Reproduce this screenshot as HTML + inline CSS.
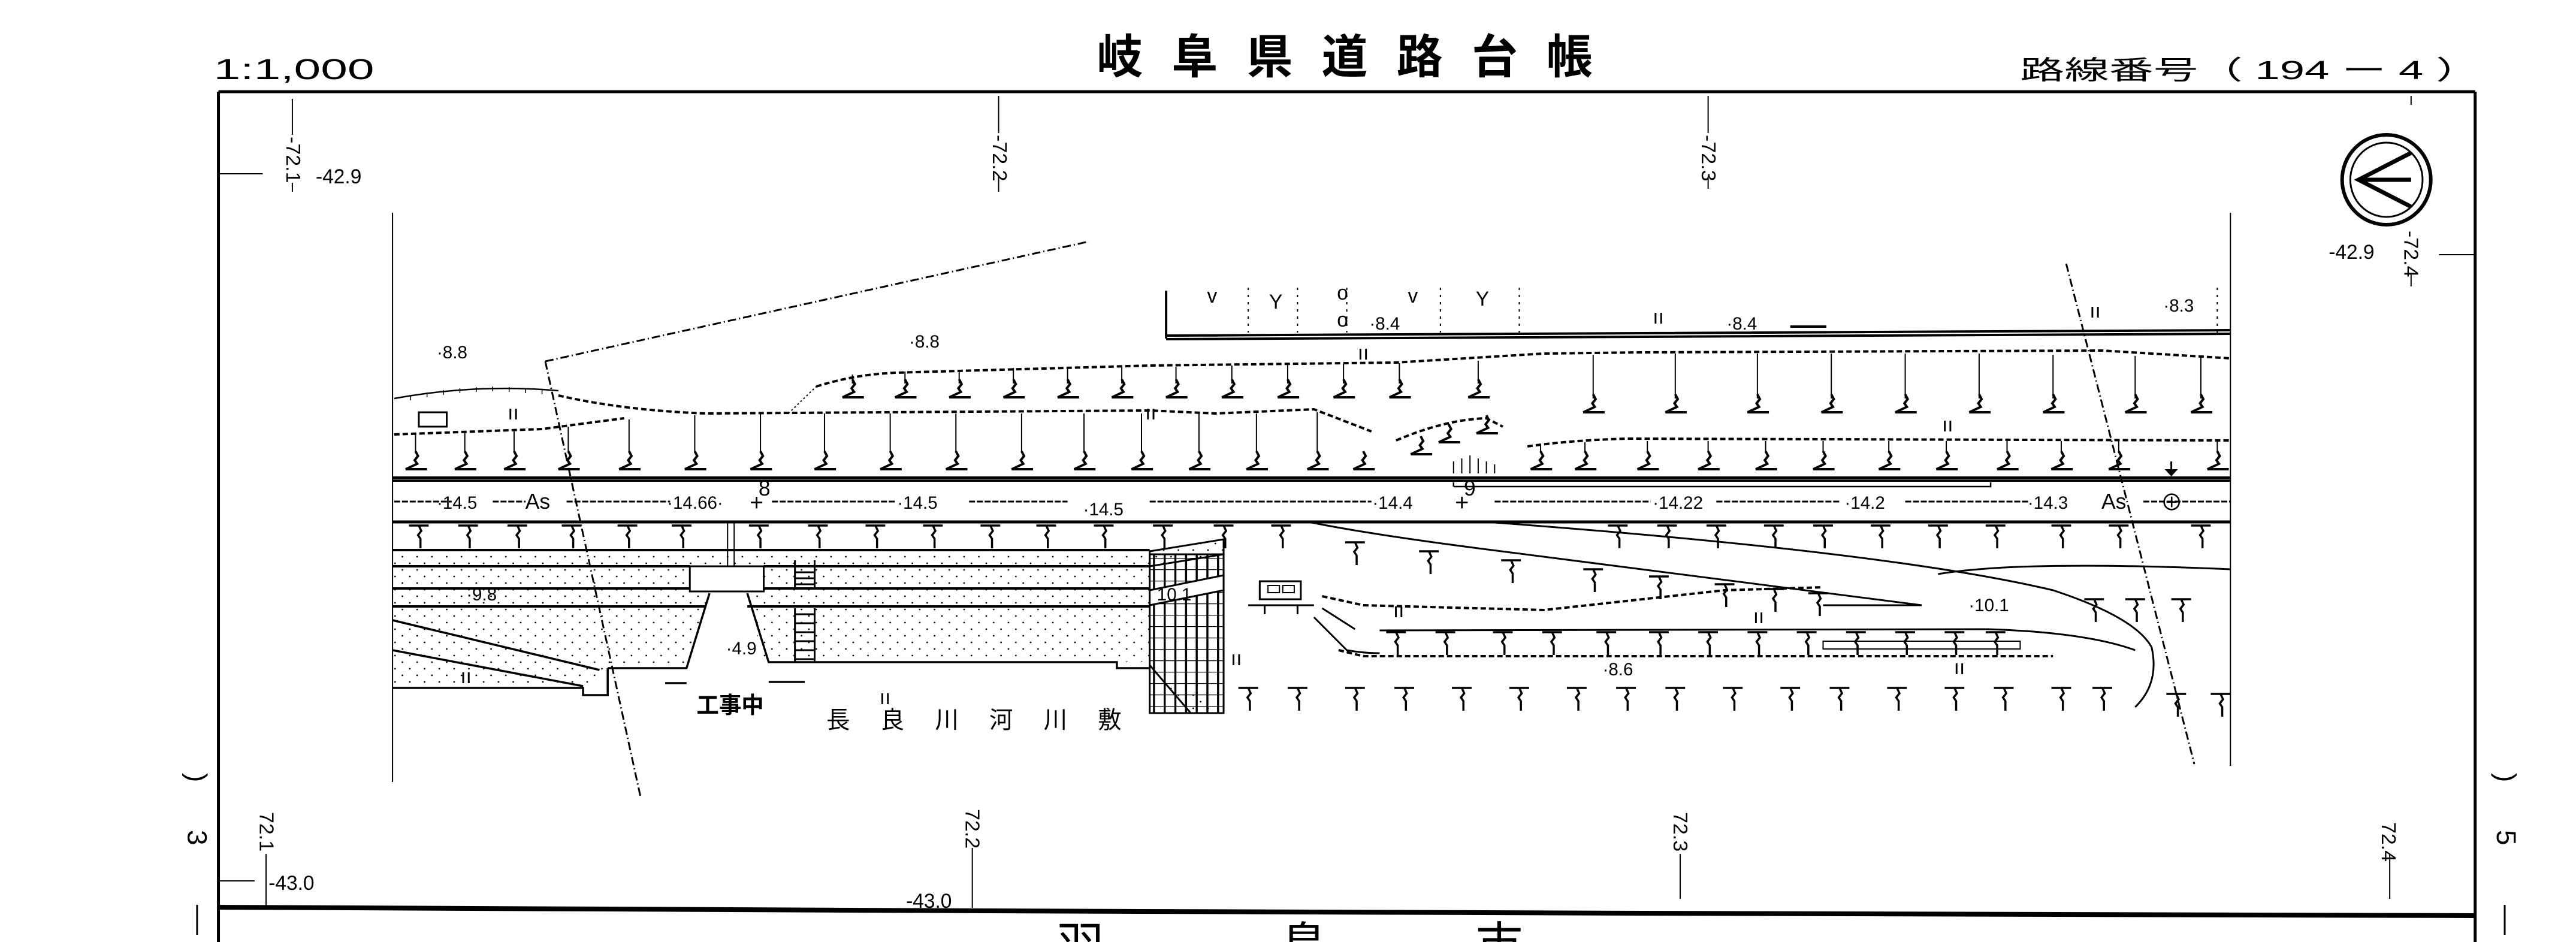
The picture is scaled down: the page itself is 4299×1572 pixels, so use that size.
<!DOCTYPE html>
<html><head><meta charset="utf-8">
<style>
html,body{margin:0;padding:0;background:#fff;}
svg{display:block;}
text{font-family:"Liberation Sans","Noto Sans CJK JP",sans-serif;fill:#000;}
</style></head>
<body>
<svg width="4299" height="1572" viewBox="0 0 4299 1572" xmlns="http://www.w3.org/2000/svg">
<defs>
  <pattern id="dots" patternUnits="userSpaceOnUse" width="9" height="22">
    <ellipse cx="2" cy="5" rx="0.5" ry="1.4" fill="#000"/>
    <ellipse cx="6.5" cy="16" rx="0.5" ry="1.4" fill="#000"/>
  </pattern>
  <pattern id="grid" patternUnits="userSpaceOnUse" width="6.5" height="19">
    <path d="M0,0 H6.5 M0,0 V19" stroke="#000" stroke-width="2.5" vector-effect="non-scaling-stroke" fill="none"/>
  </pattern>
  <path id="z" d="M0,-32 l1.5,8 -2,7 1.5,6 -7,9 h13" fill="none" stroke="#000" stroke-width="4" vector-effect="non-scaling-stroke"/>
  <path id="t" d="M-6,0 h12 l-6,0 l1.5,9 -2,7 1.5,6 V38" fill="none" stroke="#000" stroke-width="3.5" vector-effect="non-scaling-stroke"/>
</defs>

<g transform="scale(2.741,1)" fill="none" stroke="#000" stroke-width="3">
 <g>
  <path vector-effect="non-scaling-stroke" stroke-width="5" d="M133,153 H1507 M133,153 V1572 M1507,153 V1572"/>
  <path vector-effect="non-scaling-stroke" stroke-width="8" d="M133,1514 L600,1520 L1000,1524 L1507,1528"/>
  <path vector-effect="non-scaling-stroke" stroke-width="2" d="M178,165 V225 M178,305 V320 M608,160 V222 M608,295 V320 M1040,160 V222 M1040,295 V315 M1468,160 V175 M1468,455 V478 M133,290 H160 M1485,425 H1507"/>
  <path vector-effect="non-scaling-stroke" stroke-width="2" d="M162,1425 V1515 M592,1415 V1515 M1023,1425 V1500 M1455,1425 V1500 M133,1470 H155"/>
  <path vector-effect="non-scaling-stroke" stroke-width="3" d="M120,1510 V1560 M1525,1510 V1560"/>
  <ellipse vector-effect="non-scaling-stroke" cx="1453" cy="300" rx="27" ry="75" stroke-width="6"/>
  <ellipse vector-effect="non-scaling-stroke" cx="1453" cy="300" rx="22" ry="62" stroke-width="3"/>
  <path vector-effect="non-scaling-stroke" stroke-width="7" d="M1468,255 L1436,300 L1468,345 M1436,300 L1468,300"/>

  <path vector-effect="non-scaling-stroke" stroke-width="2" d="M239,355 V1305 M1358,355 V1278"/>
  <path vector-effect="non-scaling-stroke" stroke-width="4" d="M239,797 H1358 M239,802 H1358"/>
  <path vector-effect="non-scaling-stroke" stroke-width="5" d="M239,871 H1358"/>
  <path vector-effect="non-scaling-stroke" stroke-width="2.5" d="M885,812 H1212 V805 M885,812 V805"/>
  <path vector-effect="non-scaling-stroke" stroke-width="3" d="M240,837 H275 M300,837 H320 M345,837 H408 M470,837 H545 M590,837 H650 M700,837 H835 M910,837 H1005 M1045,837 H1120 M1160,837 H1235 M1305,837 H1358" stroke-dasharray="10,3"/>
  <path vector-effect="non-scaling-stroke" stroke-width="3" d="M795,870 Q830,890 900,915 L1170,1010 L1110,1010"/>
  <path vector-effect="non-scaling-stroke" stroke-width="3" d="M900,870 Q1150,920 1250,985 Q1300,1030 1310,1080 Q1315,1140 1300,1180"/>
  <path vector-effect="non-scaling-stroke" stroke-width="3" d="M1180,958 Q1230,935 1358,950"/>

  <path vector-effect="non-scaling-stroke" stroke-width="4" d="M710,485 V565 M710,560 L1000,556 L1358,551 M710,566 L1000,562 L1358,557"/>
  <path vector-effect="non-scaling-stroke" stroke-width="2" stroke-dasharray="4,8" d="M760,480 V555 M790,480 V555 M820,480 V555 M877,480 V555 M925,480 V555 M1350,480 V555"/>
  <path vector-effect="non-scaling-stroke" stroke-width="4" d="M1090,545 H1112"/>

  <path vector-effect="non-scaling-stroke" stroke-width="3" stroke-dasharray="14,5,2,5" d="M332,603 L663,403 M332,603 L390,1330 M1258,440 L1336,1275"/>

  <path vector-effect="non-scaling-stroke" stroke-width="4" stroke-dasharray="9,5" d="M497,645 Q520,625 545,622 L700,610 L850,605 L940,590 L1000,588 L1280,585 L1358,598"/>
  <path vector-effect="non-scaling-stroke" stroke-width="4" stroke-dasharray="9,5" d="M340,660 Q380,685 430,690 L700,685 L740,690 L800,683 L835,720 M850,735 Q880,700 905,698 L915,712 M930,745 Q955,735 990,732 L1358,735"/>
  <path vector-effect="non-scaling-stroke" stroke-width="4" stroke-dasharray="9,5" d="M240,725 L330,716 Q360,705 380,698"/>
  <path vector-effect="non-scaling-stroke" stroke-width="2" stroke-dasharray="3,4" d="M480,690 L497,645"/>
  <path vector-effect="non-scaling-stroke" stroke-width="2.5" d="M240,665 Q290,640 340,652"/>
  <path vector-effect="non-scaling-stroke" stroke-width="1.5" d="M250,660 v8 M260,655 v8 M270,651 v8 M280,648 v8 M290,646 v8 M300,645 v8 M310,646 v8 M320,648 v8 M330,650 v8"/>
  <rect vector-effect="non-scaling-stroke" x="255" y="688" width="17" height="24" stroke-width="3"/>
  <path vector-effect="non-scaling-stroke" stroke-width="4" stroke-dasharray="9,5" d="M805,995 L830,1010 L940,1018 L1050,985 L1110,980 M815,1085 L830,1095 L1250,1095"/>
  <path vector-effect="non-scaling-stroke" stroke-width="3" d="M840,1052 L1210,1050 Q1270,1055 1300,1085"/>
  <rect vector-effect="non-scaling-stroke" x="1110" y="1070" width="120" height="13" stroke-width="2"/>

  <path vector-effect="non-scaling-stroke" stroke-width="2" d="M519,625 V640 M551,620 V640 M584,617 V640 M617,614 V640 M650,612 V640 M683,610 V640 M716,612 V640 M750,610 V640 M784,608 V640 M818,607 V640 M852,606 V640 M900,602 V640
  M970,592 V665 M1020,590 V665 M1070,590 V665 M1115,590 V665 M1160,590 V665 M1205,590 V665 M1250,592 V665 M1300,594 V665 M1340,597 V665
  M253,725 V755 M283,722 V755 M313,720 V755 M346,712 V755 M383,700 V755 M423,693 V755 M463,690 V755 M502,690 V755 M542,690 V755 M582,690 V755 M622,690 V755 M660,690 V755 M695,690 V755 M730,690 V755 M765,690 V755 M802,688 V755
  M938,742 V755 M965,738 V755 M1003,736 V755 M1040,736 V755 M1075,736 V755 M1110,736 V755 M1150,736 V755 M1185,736 V755 M1222,736 V755 M1255,736 V755 M1290,736 V755 M1350,736 V755"/>
  <path vector-effect="non-scaling-stroke" stroke-width="2" d="M885,790 v-20 M890,790 v-25 M895,790 v-30 M900,790 v-25 M905,790 v-20 M910,790 v-15"/>
  <path vector-effect="non-scaling-stroke" stroke-width="3" d="M1322,770 V785" /><path d="M1318,783 h8 l-4,12 z" fill="#000" stroke="none"/>
 </g>
 <g>
  <use href="#z" x="519" y="665"/><use href="#z" x="551" y="665"/><use href="#z" x="584" y="665"/><use href="#z" x="617" y="665"/><use href="#z" x="650" y="665"/><use href="#z" x="683" y="665"/><use href="#z" x="716" y="665"/><use href="#z" x="750" y="665"/><use href="#z" x="784" y="665"/><use href="#z" x="818" y="665"/><use href="#z" x="852" y="665"/><use href="#z" x="900" y="665"/>
  <use href="#z" x="970" y="690"/><use href="#z" x="1020" y="690"/><use href="#z" x="1070" y="690"/><use href="#z" x="1115" y="690"/><use href="#z" x="1160" y="690"/><use href="#z" x="1205" y="690"/><use href="#z" x="1250" y="690"/><use href="#z" x="1300" y="690"/><use href="#z" x="1340" y="690"/>
  <use href="#z" x="253" y="785"/><use href="#z" x="283" y="785"/><use href="#z" x="313" y="785"/><use href="#z" x="346" y="785"/><use href="#z" x="383" y="785"/><use href="#z" x="423" y="785"/><use href="#z" x="463" y="785"/><use href="#z" x="502" y="785"/><use href="#z" x="542" y="785"/><use href="#z" x="582" y="785"/><use href="#z" x="622" y="785"/><use href="#z" x="660" y="785"/><use href="#z" x="695" y="785"/><use href="#z" x="730" y="785"/><use href="#z" x="765" y="785"/><use href="#z" x="802" y="785"/><use href="#z" x="830" y="785"/>
  <use href="#z" x="938" y="785"/><use href="#z" x="965" y="785"/><use href="#z" x="1003" y="785"/><use href="#z" x="1040" y="785"/><use href="#z" x="1075" y="785"/><use href="#z" x="1110" y="785"/><use href="#z" x="1150" y="785"/><use href="#z" x="1185" y="785"/><use href="#z" x="1222" y="785"/><use href="#z" x="1255" y="785"/><use href="#z" x="1290" y="785"/><use href="#z" x="1350" y="785"/>
  <use href="#z" x="865" y="760"/><use href="#z" x="882" y="740"/><use href="#z" x="905" y="725"/>
 </g>
 <g>
  <use href="#t" x="255" y="877"/><use href="#t" x="285" y="877"/><use href="#t" x="315" y="877"/><use href="#t" x="348" y="877"/><use href="#t" x="382" y="877"/><use href="#t" x="415" y="877"/><use href="#t" x="462" y="877"/><use href="#t" x="498" y="877"/><use href="#t" x="533" y="877"/><use href="#t" x="568" y="877"/><use href="#t" x="603" y="877"/><use href="#t" x="637" y="877"/><use href="#t" x="672" y="877"/><use href="#t" x="708" y="877"/><use href="#t" x="745" y="877"/><use href="#t" x="780" y="877"/>
  <use href="#t" x="985" y="877"/><use href="#t" x="1015" y="877"/><use href="#t" x="1045" y="877"/><use href="#t" x="1080" y="877"/><use href="#t" x="1110" y="877"/><use href="#t" x="1145" y="877"/><use href="#t" x="1180" y="877"/><use href="#t" x="1215" y="877"/><use href="#t" x="1255" y="877"/><use href="#t" x="1290" y="877"/><use href="#t" x="1340" y="877"/>
  <use href="#t" x="825" y="905"/><use href="#t" x="870" y="920"/><use href="#t" x="920" y="935"/><use href="#t" x="970" y="950"/><use href="#t" x="1010" y="962"/><use href="#t" x="1050" y="975"/><use href="#t" x="1080" y="983"/><use href="#t" x="1107" y="990"/>
  <use href="#t" x="1275" y="1000"/><use href="#t" x="1300" y="1000"/><use href="#t" x="1328" y="1000"/>
  <use href="#t" x="850" y="1055"/><use href="#t" x="880" y="1055"/><use href="#t" x="915" y="1055"/><use href="#t" x="945" y="1055"/><use href="#t" x="978" y="1055"/><use href="#t" x="1010" y="1055"/><use href="#t" x="1040" y="1055"/><use href="#t" x="1070" y="1055"/><use href="#t" x="1100" y="1055"/><use href="#t" x="1130" y="1055"/><use href="#t" x="1160" y="1055"/><use href="#t" x="1190" y="1055"/><use href="#t" x="1215" y="1055"/>
  <use href="#t" x="760" y="1148"/><use href="#t" x="790" y="1148"/><use href="#t" x="825" y="1148"/><use href="#t" x="855" y="1148"/><use href="#t" x="890" y="1148"/><use href="#t" x="925" y="1148"/><use href="#t" x="960" y="1148"/><use href="#t" x="990" y="1148"/><use href="#t" x="1020" y="1148"/><use href="#t" x="1055" y="1148"/><use href="#t" x="1090" y="1148"/><use href="#t" x="1120" y="1148"/><use href="#t" x="1155" y="1148"/><use href="#t" x="1190" y="1148"/><use href="#t" x="1220" y="1148"/><use href="#t" x="1255" y="1148"/><use href="#t" x="1280" y="1148"/><use href="#t" x="1325" y="1158"/><use href="#t" x="1352" y="1158"/>
 </g>

 <g>
  <path fill="url(#dots)" stroke="none" d="M239,918 H700 V1105 H465 L455,990 H432 L418,1115 L370,1115 L360,1148 H239 Z"/>
  <rect x="420" y="945" width="45" height="42" fill="#fff" stroke="#000" stroke-width="3" vector-effect="non-scaling-stroke"/>
  <path vector-effect="non-scaling-stroke" stroke-width="4" d="M239,918 H700 M239,945 H420 M465,945 H700 M239,982 H420 M465,982 H700 M239,1012 H430 M455,1012 H700"/>
  <path vector-effect="non-scaling-stroke" stroke-width="2" d="M443,870 V945 M447,870 V945"/>
  <path vector-effect="non-scaling-stroke" stroke-width="3.5" d="M432,990 L418,1115 L370,1115 M455,990 L468,1105 H680 V1115 H700 M239,1035 L365,1118 M239,1085 L355,1145 M239,1148 H355 V1160 H370 V1115 M405,1140 H418 M468,1138 H490"/>
  <path vector-effect="non-scaling-stroke" stroke-width="3" d="M484,935 V980 M496,935 V980 M484,1015 V1105 M496,1015 V1105 M484,945 h12 M484,955 h12 M484,965 h12 M484,975 h12 M484,1025 h12 M484,1040 h12 M484,1055 h12 M484,1070 h12 M484,1085 h12 M484,1100 h12"/>
  <rect x="700" y="925" width="45" height="265" fill="url(#grid)" stroke="#000" stroke-width="3" vector-effect="non-scaling-stroke"/>
  <path fill="url(#dots)" stroke="#000" stroke-width="3" vector-effect="non-scaling-stroke" d="M700,920 L745,900 V925 L700,945 Z"/>
  <path fill="#fff" stroke="#000" stroke-width="3" vector-effect="non-scaling-stroke" d="M700,985 L745,960 V985 L700,1010 Z"/>
  <path fill="url(#dots)" stroke="#000" stroke-width="3" vector-effect="non-scaling-stroke" d="M700,1110 L725,1190 H745"/>
  <rect x="767" y="970" width="25" height="30" stroke-width="3" vector-effect="non-scaling-stroke"/>
  <rect x="772" y="977" width="7" height="12" stroke-width="2" vector-effect="non-scaling-stroke"/>
  <rect x="781" y="977" width="7" height="12" stroke-width="2" vector-effect="non-scaling-stroke"/>
  <path vector-effect="non-scaling-stroke" stroke-width="3" d="M760,1010 H800 M770,1010 V1025 M790,1010 V1025 M805,1015 L825,1050 M800,1030 L820,1085 Q830,1090 840,1090"/>
 </g>
</g>

<g transform="scale(0.9851,1)">
 <text x="1858" y="122" font-size="78" font-weight="bold" textLength="840" lengthAdjust="spacing">岐阜県道路台帳</text>
 <text x="362" y="132" font-size="48" textLength="272" lengthAdjust="spacingAndGlyphs">1:1,000</text>
 <text x="3422" y="132" font-size="44" textLength="780" lengthAdjust="spacingAndGlyphs">路線番号（ 194 ー  4  ）</text>

 <g font-size="34">
  <text transform="translate(485,228) rotate(90)">-72.1</text>
  <text transform="translate(1682,225) rotate(90)">-72.2</text>
  <text transform="translate(2883,225) rotate(90)">-72.3</text>
  <text transform="translate(4073,385) rotate(90)">-72.4</text>
  <text transform="translate(440,1355) rotate(90)">72.1</text>
  <text transform="translate(1636,1350) rotate(90)">72.2</text>
  <text transform="translate(2835,1355) rotate(90)">72.3</text>
  <text transform="translate(4035,1372) rotate(90)">72.4</text>
  <text x="535" y="306">-42.9</text>
  <text x="3945" y="432">-42.9</text>
  <text x="455" y="1485">-43.0</text>
  <text x="1535" y="1515">-43.0</text>
 </g>
 <g font-size="46">
  <text transform="translate(318,1385) rotate(90)">3</text>
  <text transform="translate(318,1290) rotate(90)">)</text>
  <text transform="translate(4230,1385) rotate(90)">5</text>
  <text transform="translate(4230,1290) rotate(90)">)</text>
 </g>
 <g font-size="80">
  <text x="1790" y="1605">羽</text>
  <text x="2170" y="1605">島</text>
  <text x="2500" y="1605">市</text>
 </g>

 <g font-size="30">
  <text x="740" y="849">·14.5</text>
  <text x="890" y="849" font-size="36">As</text>
  <text x="1130" y="849">·14.66·</text>
  <text x="1270" y="852" font-size="40">+</text>
  <text x="1285" y="827" font-size="36">8</text>
  <text x="1520" y="849">·14.5</text>
  <text x="1835" y="860">·14.5</text>
  <text x="2325" y="849">·14.4</text>
  <text x="2465" y="852" font-size="40">+</text>
  <text x="2480" y="827" font-size="36">9</text>
  <text x="2800" y="849">·14.22</text>
  <text x="3125" y="849">·14.2</text>
  <text x="3435" y="849">·14.3</text>
  <text x="3560" y="849" font-size="36">As</text>
  <text x="3660" y="852" font-size="38">⊕</text>
  <text x="790" y="1002">·9.8</text>
  <text x="1960" y="1002">10.1</text>
  <text x="1230" y="1092">·4.9</text>
  <text x="3335" y="1020">·10.1</text>
  <text x="2715" y="1127">·8.6</text>
  <text x="740" y="598">·8.8</text>
  <text x="1540" y="580">·8.8</text>
  <text x="2320" y="550">·8.4</text>
  <text x="2925" y="550">·8.4</text>
  <text x="3665" y="520">·8.3</text>
 </g>
 <text x="1180" y="1190" font-size="38" font-weight="bold">工事中</text>
 <text x="1400" y="1215" font-size="40" textLength="500" lengthAdjust="spacing">長良川河川敷</text>
 <g font-size="34">
  <text x="2045" y="505">v</text><text x="2150" y="515">Y</text><text x="2265" y="500">o</text><text x="2265" y="545">o</text><text x="2385" y="505">v</text><text x="2500" y="510">Y</text>
  <text x="780" y="1140">ıı</text><text x="860" y="700">ıı</text><text x="1940" y="700">ıı</text><text x="2300" y="600">ıı</text><text x="3290" y="720">ıı</text><text x="2800" y="540">ıı</text><text x="2360" y="1030">ıı</text><text x="2970" y="1040">ıı</text><text x="3310" y="1125">ıı</text><text x="1490" y="1175">ıı</text><text x="2085" y="1110">ıı</text><text x="3540" y="530">ıı</text>
 </g>
</g>
</svg>
</body></html>
